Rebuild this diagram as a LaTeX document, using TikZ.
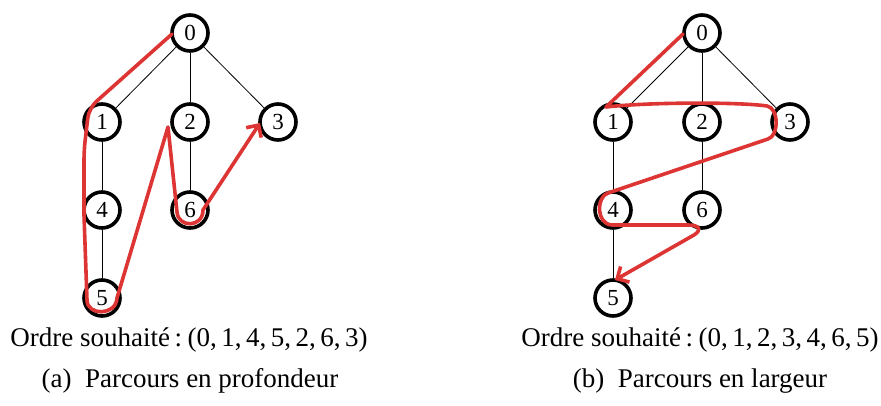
\documentclass[tikz,border=0pt]{standalone}
\usepackage{fontspec}
\setmainfont{Liberation Serif}
\usetikzlibrary{arrows.meta}
\definecolor{tracecol}{RGB}{221,52,52}
\begin{document}
\begin{tikzpicture}[x=1pt,y=-1pt,
  vertex/.style={circle,draw,line width=3.6pt,minimum size=36pt,inner sep=0pt,
    font=\fontsize{23pt}{26pt}\selectfont},
  edge/.style={line width=0.8pt},
  trace/.style={draw=tracecol,line width=3.6pt,line cap=round,line join=round},
  tracetip/.style={-{Straight Barb[length=9pt,width=18pt]}},
  label/.style={anchor=base,inner sep=0pt,font=\fontsize{27pt}{32pt}\selectfont}]
\useasboundingbox (0,0) rectangle (881,406);
% left graph
\node[vertex] (a0) at (190,33) {0};
\node[vertex] (a1) at (102,122) {1};
\node[vertex] (a2) at (190,122) {2};
\node[vertex] (a3) at (278,122) {3};
\node[vertex] (a4) at (102,210) {4};
\node[vertex] (a6) at (190,210) {6};
\node[vertex] (a5) at (102,298) {5};
\draw[edge] (a0) -- (a1);
\draw[edge] (a0) -- (a2);
\draw[edge] (a0) -- (a3);
\draw[edge] (a1) -- (a4);
\draw[edge] (a4) -- (a5);
\draw[edge] (a2) -- (a6);
% right graph
\node[vertex] (b0) at (702,33) {0};
\node[vertex] (b1) at (613,122) {1};
\node[vertex] (b2) at (702,122) {2};
\node[vertex] (b3) at (790,122) {3};
\node[vertex] (b4) at (613,210) {4};
\node[vertex] (b6) at (702,210) {6};
\node[vertex] (b5) at (613,298) {5};
\draw[edge] (b0) -- (b1);
\draw[edge] (b0) -- (b2);
\draw[edge] (b0) -- (b3);
\draw[edge] (b1) -- (b4);
\draw[edge] (b4) -- (b5);
\draw[edge] (b2) -- (b6);
% depth-first trace
\draw[trace,tracetip] ([shift={(-18,1)}]a0.center) [rounded corners=10pt] -- (89,108) -- (84,150) [sharp corners]
  -- (84,215) -- (87,300) .. controls (87,316) and (116,316) .. (117,298)
  -- (168,127) -- (177,212) .. controls (178,228) and (203,228) .. (203,210)
  -- ([shift={(-18,1)}]a3.center);
% breadth-first trace
\draw[trace,tracetip] ([shift={(-19,1)}]b0.center) -- (606,107)
  .. controls (650,102) and (740,102) .. (767,106)
  .. controls (779,108) and (779,136) .. (768,139)
  -- (608,193) .. controls (596,197) and (596,224) .. (612,225)
  -- (688,225) .. controls (700,225) and (702,230) .. (694,235)
  -- ([shift={(2,-18)}]b5.center);
% texts
\node[label] (ta) at (189,346) {Ordre souhaité\,:\hspace{0.2em}(0,\,1,\,4,\,5,\,2,\,6,\,3)};
\node[label] (tb) at (700,346) {Ordre souhaité\,:\hspace{0.2em}(0,\,1,\,2,\,3,\,4,\,6,\,5)};
\node[label] (ca) at (190,387) {(a)\hspace{0.5em}Parcours en profondeur};
\node[label] (cb) at (700,387) {(b)\hspace{0.5em}Parcours en largeur};
\end{tikzpicture}
\end{document}
